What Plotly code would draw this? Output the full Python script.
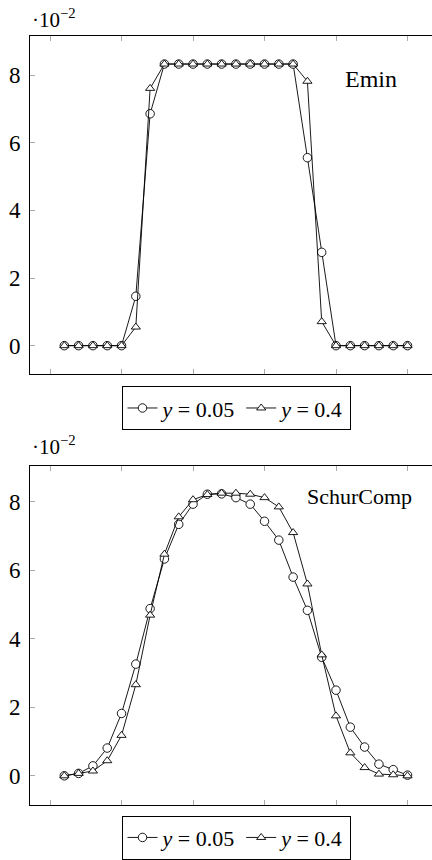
import plotly.graph_objects as go

# x positions (25 samples)
x_vals = [round(0.04 * (i + 1), 2) for i in range(25)]

# Values in units of 1e-2
emin_y005 = [0, 0, 0, 0, 0, 1.46, 6.86,
             8.33, 8.33, 8.33, 8.33, 8.33, 8.33, 8.33, 8.33, 8.33, 8.33,
             5.56, 2.76, 0, 0, 0, 0, 0, 0]
emin_y04 = [0, 0, 0, 0, 0, 0.55, 7.61,
            8.33, 8.33, 8.33, 8.33, 8.33, 8.33, 8.33, 8.33, 8.33, 8.33,
            7.82, 0.71, 0, 0, 0, 0, 0, 0]

schur_y005 = [0.0, 0.07, 0.29, 0.81, 1.82, 3.26, 4.88, 6.33, 7.34, 7.93,
              8.22, 8.23, 8.12, 7.93, 7.43, 6.88, 5.80, 4.83, 3.46, 2.50,
              1.42, 0.84, 0.34, 0.18, 0.02]
schur_y04 = [0.0, 0.07, 0.14, 0.44, 1.18, 2.66, 4.69, 6.47, 7.56, 8.06,
             8.21, 8.25, 8.25, 8.22, 8.12, 7.85, 7.10, 5.60, 3.53, 1.75,
             0.67, 0.24, 0.05, 0.03, 0.0]

y_ticks = [0, 2, 4, 6, 8]
x_ticks = [0, 0.2, 0.4, 0.6, 0.8, 1.0]
series_names = ["<i>y</i> = 0.05", "<i>y</i> = 0.4"]
panel_labels = ["Emin", "SchurComp"]

W, H = 432, 860
FONT = "Liberation Serif, DejaVu Serif, serif"

fig = go.Figure()

def add_pair(ys005, ys04, xa, ya, legend):
    fig.add_trace(go.Scatter(
        x=x_vals, y=ys005, mode="lines+markers", name=series_names[0],
        xaxis=xa, yaxis=ya, legend=legend,
        line=dict(color="black", width=0.9),
        marker=dict(symbol="circle", size=8.5, color="white",
                    line=dict(color="black", width=0.9))))
    fig.add_trace(go.Scatter(
        x=x_vals, y=ys04, mode="lines+markers", name=series_names[1],
        xaxis=xa, yaxis=ya, legend=legend,
        line=dict(color="black", width=0.9),
        marker=dict(symbol="triangle-up", size=8, color="white",
                    line=dict(color="black", width=0.9))))

add_pair(emin_y005, emin_y04, "x", "y", "legend")
add_pair(schur_y005, schur_y04, "x2", "y2", "legend2")

def py(pix):
    return 1 - pix / H

x_range = [-0.056, 1.0685]
xcommon = dict(range=x_range, tickvals=x_ticks, showticklabels=False,
               ticks="inside", ticklen=5, tickcolor="#aaaaaa", tickwidth=1,
               showline=True, linecolor="black", linewidth=1, mirror="allticks",
               showgrid=False, zeroline=False)
ycommon = dict(tickvals=y_ticks, ticktext=[str(v) for v in y_ticks],
               ticks="inside", ticklen=5, tickcolor="#aaaaaa", tickwidth=1,
               showline=True, linecolor="black", linewidth=1, mirror=False,
               showgrid=False, zeroline=False,
               tickfont=dict(family=FONT, size=23, color="black"),
               ticklabelstandoff=4)

legend_common = dict(orientation="h", x=(236 - 30) / 402, xanchor="center",
                     yanchor="middle", bordercolor="black", borderwidth=1,
                     bgcolor="white", font=dict(family=FONT, size=22, color="black"),
                     itemwidth=30, tracegroupgap=0)

fig.update_layout(
    width=W, height=H,
    margin=dict(l=30, r=0, t=0, b=0),
    paper_bgcolor="white", plot_bgcolor="white",
    font=dict(family=FONT, color="black"),
    xaxis=dict(domain=[0, 1], anchor="y", **xcommon),
    yaxis=dict(domain=[py(378), py(36.7)], anchor="x", range=[-0.84, 9.15], **ycommon),
    xaxis2=dict(domain=[0, 1], anchor="y2", **xcommon),
    yaxis2=dict(domain=[py(813.3), py(470.7)], anchor="x2", range=[-0.846, 9.05], **ycommon),
    legend=dict(y=py(412.5), **legend_common),
    legend2=dict(y=py(846.5), **legend_common),
    showlegend=True,
)

# exponent labels
for ypix in [19, 450]:
    fig.add_annotation(xref="paper", yref="paper", x=0, y=py(ypix),
                       xanchor="left", yanchor="middle", showarrow=False,
                       text="·10<sup>−2</sup>",
                       font=dict(family=FONT, size=21, color="black"))

fig.add_annotation(xref="paper", yref="paper", x=(371 - 30) / 402, y=py(80),
                   xanchor="center", yanchor="middle", showarrow=False,
                   text=panel_labels[0], bgcolor="white",
                   font=dict(family=FONT, size=24, color="black"))
fig.add_annotation(xref="paper", yref="paper", x=(359 - 30) / 402, y=py(502),
                   xanchor="center", yanchor="middle", showarrow=False,
                   text=panel_labels[1], bgcolor="white",
                   font=dict(family=FONT, size=22, color="black"))

fig.write_html("out.html")
